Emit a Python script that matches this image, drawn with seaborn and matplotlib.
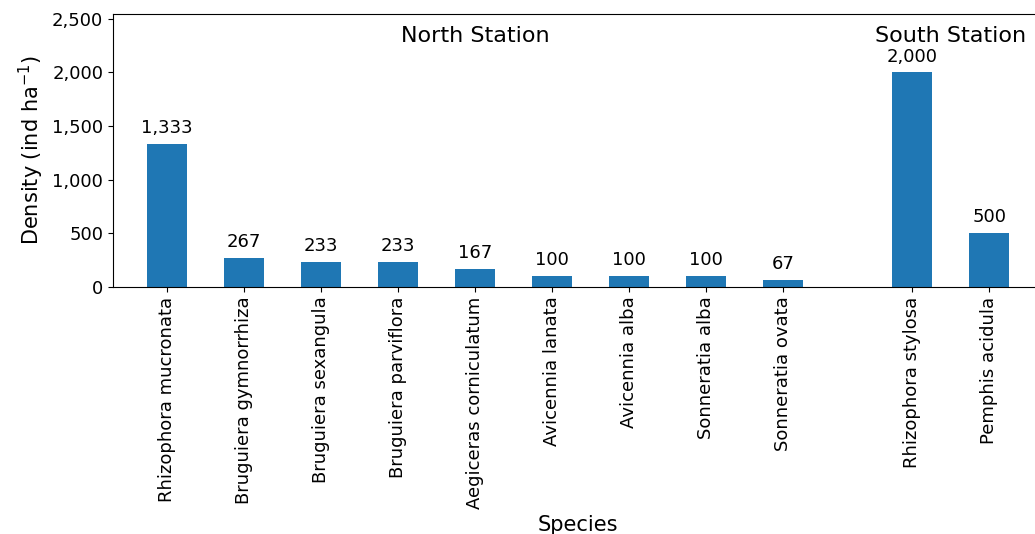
import matplotlib
matplotlib.use('Agg')
import matplotlib.pyplot as plt
import matplotlib.ticker as mticker
import pandas as pd
import seaborn as sns

# species densities (ind/ha) per station
north_species = ['Rhizophora mucronata', 'Bruguiera gymnorrhiza', 'Bruguiera sexangula',
                 'Bruguiera parviflora', 'Aegiceras corniculatum', 'Avicennia lanata',
                 'Avicennia alba', 'Sonneratia alba', 'Sonneratia ovata']
north_density = [1333, 267, 233, 233, 167, 100, 100, 100, 67]
south_species = ['Rhizophora stylosa', 'Pemphis acidula']
south_density = [2000, 500]

gap = 0.68  # extra space between the two stations
north_pos = list(range(len(north_species)))
south_pos = [len(north_species) + gap + i for i in range(len(south_species))]

df = pd.DataFrame({
    'pos': north_pos + south_pos,
    'species': north_species + south_species,
    'density': north_density + south_density,
})

plt.rcParams['font.family'] = ['DejaVu Sans']

fig = plt.figure(figsize=(10.35, 5.34), dpi=100)
ax = fig.add_axes([113 / 1035, 1 - 287 / 534, (1043 - 113) / 1035, (287 - 14) / 534])

sns.barplot(data=df, x='pos', y='density', native_scale=True, width=0.515,
            color='#1f77b4', saturation=1, linewidth=0, ax=ax)

for p, v in zip(df['pos'], df['density']):
    ax.annotate(f'{v:,}', (p, v), xytext=(0, 5), textcoords='offset points',
                ha='center', va='bottom', fontsize=13)

ax.text(4, 2340, 'North Station', ha='center', va='center', fontsize=16)
ax.text((south_pos[0] + south_pos[1]) / 2, 2340, 'South Station', ha='center', va='center', fontsize=16)

ax.set_xlim(-0.7, south_pos[-1] + 0.7)
ax.set_ylim(0, 2545)
ax.set_xticks(df['pos'])
ax.set_xticklabels(df['species'], rotation=90, fontsize=13)
ax.yaxis.set_major_locator(mticker.MultipleLocator(500))
ax.yaxis.set_major_formatter(mticker.StrMethodFormatter('{x:,.0f}'))
ax.tick_params(axis='y', labelsize=13)
ax.set_xlabel('Species', fontsize=15)
ax.set_ylabel('Density (ind ha$^{-1}$)', fontsize=15)

fig.savefig('out.png', dpi=100)
